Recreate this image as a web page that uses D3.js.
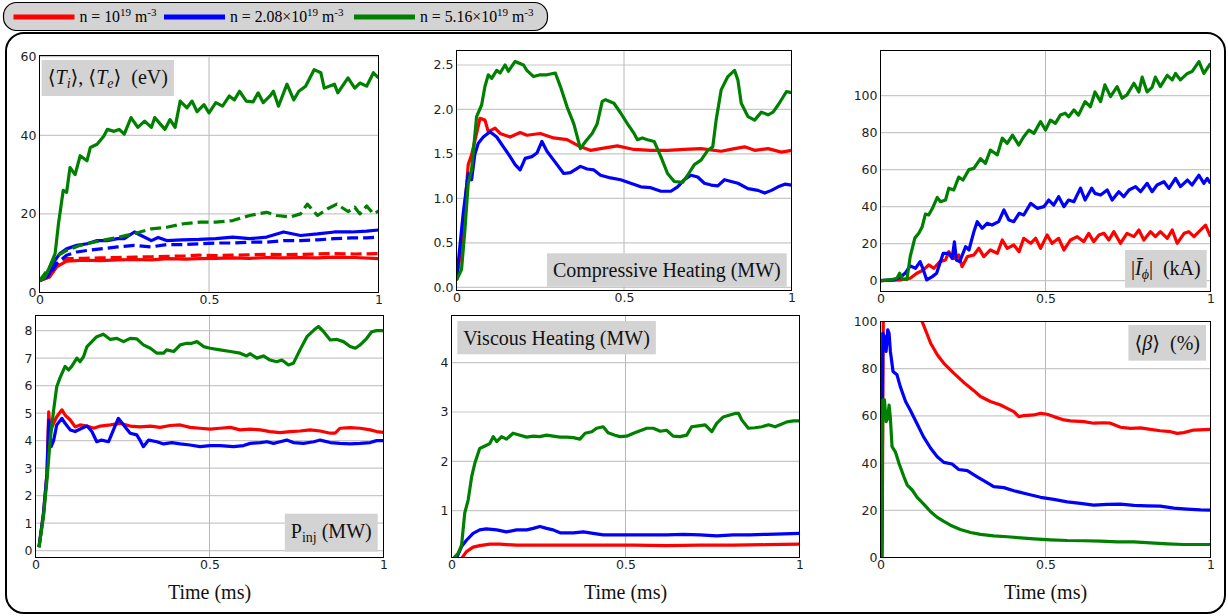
<!DOCTYPE html>
<html>
<head>
<meta charset="utf-8">
<script src="https://cdn.jsdelivr.net/npm/d3@7/dist/d3.min.js"></script>
<style>
  body { margin: 0; background: #fff; }
  svg { display: block; }
  text { white-space: pre; }
</style>
</head>
<body>
<svg id="chart" width="1228" height="616"></svg>
<script>
// ---------------- data ----------------
// Time axis (ms) ticks shared by all panels
const xTicks = [0, 0.5, 1];
const xTickLabels = ["0", "0.5", "1"];

// Densities of the three runs
const densityMantissa = ["", "2.08×", "5.16×"];

// Y ticks for each panel
const tempTicks = [0, 20, 40, 60];
const compTicks = [0, 0.5, 1, 1.5, 2, 2.5];
const currTicks = [0, 20, 40, 60, 80, 100];
const pinjTicks = [0, 1, 2, 3, 4, 5, 6, 7, 8];
const viscTicks = [1, 2, 3, 4];
const betaTicks = [0, 20, 40, 60, 80, 100];

// <T_i> (solid) and <T_e> (dashed), eV — [time ms, value]
const tiRed = [[0,3],[0.03,4],[0.05,6.5],[0.08,8],[0.13,8.2],[0.18,8.1],[0.23,8.3],[0.28,8.4],[0.33,8.3],[0.38,8.6],[0.43,8.5],[0.47,8.6],[0.52,8.7],[0.57,8.8],[0.62,8.7],[0.67,8.9],[0.72,8.8],[0.77,8.9],[0.82,8.8],[0.87,9],[0.93,8.9],[1,8.6]];
const teRed = [[0,3],[0.03,4],[0.05,6.5],[0.08,8.6],[0.13,8.7],[0.18,8.8],[0.23,8.9],[0.28,9],[0.33,9.1],[0.38,9.2],[0.43,9.3],[0.47,9.5],[0.52,9.4],[0.57,9.5],[0.62,9.6],[0.67,9.7],[0.72,9.6],[0.77,9.7],[0.82,9.8],[0.87,9.9],[0.93,9.8],[1,9.9]];
const tiBlue = [[0,3],[0.03,4.8],[0.046,8.2],[0.06,9.9],[0.08,11.1],[0.11,12],[0.14,12.4],[0.17,13.2],[0.2,13.2],[0.23,13.7],[0.25,13.7],[0.28,15.4],[0.3,14.5],[0.33,13.2],[0.35,14],[0.375,13.2],[0.42,13.4],[0.47,13.5],[0.52,13.7],[0.57,14.1],[0.62,13.7],[0.67,14.1],[0.72,15.4],[0.77,14.5],[0.82,14.9],[0.87,15.4],[0.92,15.4],[0.965,15.6],[1,15.9]];
const teBlue = [[0,3],[0.03,4.4],[0.05,7.3],[0.08,9.5],[0.11,10.3],[0.14,10.7],[0.18,11.1],[0.23,11.6],[0.28,12],[0.33,11.6],[0.375,12.2],[0.425,12.2],[0.475,12.4],[0.52,12.6],[0.57,12.6],[0.62,12.8],[0.67,12.8],[0.72,13.2],[0.77,13.2],[0.82,13.4],[0.87,13.7],[0.92,13.9],[0.965,13.9],[1,14.1]];
const tiGreen = [[0,3],[0.015,3.8],[0.03,6.5],[0.046,9.9],[0.056,17.5],[0.07,26],[0.08,25.5],[0.09,31.8],[0.105,30],[0.12,34.8],[0.14,33.5],[0.15,36.9],[0.17,37.7],[0.19,39.8],[0.2,41.5],[0.22,41],[0.235,41.5],[0.25,40.3],[0.27,44.5],[0.29,42],[0.31,43.6],[0.33,42],[0.34,44.5],[0.37,41.5],[0.385,44],[0.4,42],[0.415,48.7],[0.435,47],[0.45,48.7],[0.465,46],[0.485,47.8],[0.5,45.7],[0.52,48.3],[0.54,47.4],[0.56,50],[0.575,49],[0.59,51.2],[0.61,48.7],[0.63,48.5],[0.645,50.8],[0.66,48.3],[0.68,50],[0.69,51.2],[0.705,47.4],[0.73,53],[0.75,49],[0.765,51.2],[0.785,52.5],[0.81,56.7],[0.83,55.9],[0.84,52],[0.87,53],[0.88,50.8],[0.91,54.6],[0.93,52],[0.945,53.3],[0.965,52.5],[0.985,55.9],[1,54.6]];
const teGreen = [[0,3],[0.03,6.5],[0.046,9],[0.08,10.7],[0.12,12],[0.18,13.2],[0.23,14],[0.28,15],[0.33,16.2],[0.375,16.6],[0.425,17.5],[0.475,17.9],[0.52,17.9],[0.57,18.3],[0.62,19.6],[0.67,20.4],[0.7,19.6],[0.74,19.2],[0.77,20],[0.79,22.5],[0.82,19.6],[0.85,21.3],[0.877,22.5],[0.91,20.6],[0.93,21.7],[0.945,20],[0.965,22],[0.985,20],[1,20.7]];

// Compressive heating, MW
const compRed = [[0,0.08],[0.015,0.46],[0.025,0.9],[0.035,1.38],[0.045,1.49],[0.06,1.73],[0.07,1.9],[0.085,1.88],[0.095,1.75],[0.115,1.79],[0.13,1.73],[0.16,1.69],[0.19,1.74],[0.21,1.71],[0.25,1.73],[0.29,1.68],[0.33,1.66],[0.37,1.58],[0.4,1.54],[0.43,1.56],[0.48,1.59],[0.53,1.55],[0.58,1.54],[0.63,1.54],[0.68,1.55],[0.73,1.56],[0.79,1.53],[0.83,1.56],[0.86,1.58],[0.89,1.54],[0.93,1.56],[0.97,1.52],[1,1.54]];
const compBlue = [[0,0.08],[0.02,0.83],[0.035,1.28],[0.045,1.21],[0.055,1.5],[0.065,1.62],[0.08,1.69],[0.1,1.75],[0.12,1.69],[0.14,1.58],[0.16,1.47],[0.175,1.38],[0.19,1.32],[0.205,1.45],[0.225,1.47],[0.24,1.51],[0.255,1.64],[0.27,1.53],[0.29,1.43],[0.32,1.28],[0.34,1.29],[0.37,1.36],[0.39,1.33],[0.41,1.32],[0.43,1.26],[0.46,1.23],[0.49,1.21],[0.52,1.17],[0.55,1.13],[0.58,1.12],[0.61,1.08],[0.64,1.08],[0.66,1.13],[0.68,1.21],[0.7,1.26],[0.72,1.24],[0.74,1.17],[0.76,1.15],[0.78,1.14],[0.8,1.21],[0.82,1.19],[0.84,1.17],[0.87,1.11],[0.9,1.09],[0.92,1.06],[0.94,1.09],[0.96,1.13],[0.98,1.16],[1,1.15]];
const compGreen = [[0,0.08],[0.015,0.2],[0.025,0.64],[0.035,1.17],[0.045,1.32],[0.06,1.92],[0.075,2.05],[0.085,2.26],[0.095,2.39],[0.105,2.35],[0.12,2.44],[0.13,2.41],[0.145,2.5],[0.155,2.43],[0.175,2.54],[0.2,2.5],[0.21,2.44],[0.23,2.37],[0.25,2.39],[0.27,2.39],[0.295,2.41],[0.31,2.26],[0.33,2.03],[0.35,1.84],[0.37,1.56],[0.385,1.64],[0.405,1.73],[0.42,1.84],[0.435,2.09],[0.445,2.11],[0.47,2.07],[0.49,1.96],[0.51,1.84],[0.53,1.73],[0.54,1.66],[0.555,1.68],[0.57,1.66],[0.59,1.64],[0.61,1.47],[0.63,1.28],[0.65,1.19],[0.675,1.18],[0.69,1.26],[0.71,1.38],[0.73,1.43],[0.75,1.54],[0.765,1.58],[0.775,1.88],[0.79,2.22],[0.81,2.37],[0.83,2.44],[0.84,2.33],[0.85,2.07],[0.87,1.92],[0.89,1.88],[0.91,1.97],[0.93,1.94],[0.945,1.97],[0.96,2.05],[0.975,2.14],[0.985,2.2],[1,2.19]];

// |I_phi|, kA
const currRed = [[0,0],[0.06,0.4],[0.09,1.3],[0.11,4],[0.13,5.8],[0.146,8.5],[0.162,6.7],[0.18,10.3],[0.197,11.2],[0.207,15.7],[0.222,12],[0.237,13.9],[0.247,7.6],[0.263,13],[0.283,13.9],[0.298,17.5],[0.313,13],[0.333,16.6],[0.354,14.8],[0.369,22],[0.384,17.5],[0.404,19.3],[0.42,15.7],[0.434,22.9],[0.455,20.2],[0.47,22.9],[0.485,17.5],[0.505,24.7],[0.52,20.2],[0.54,22.9],[0.556,16.6],[0.576,22],[0.596,23.8],[0.616,21.1],[0.631,25.6],[0.646,21.1],[0.662,24.7],[0.677,25.6],[0.692,22],[0.707,26.5],[0.727,20.2],[0.747,25.6],[0.768,23.8],[0.783,27.4],[0.798,22],[0.818,26.5],[0.833,23.8],[0.848,26.5],[0.869,22.9],[0.884,27.4],[0.899,20.2],[0.92,25.6],[0.934,26.5],[0.95,23.8],[0.965,26.5],[0.985,30],[1,23.8]];
const currBlue = [[0,0],[0.04,0.4],[0.06,1.8],[0.076,4.3],[0.09,8],[0.106,6.7],[0.12,10.3],[0.13,5.8],[0.14,0.4],[0.157,2.2],[0.17,4],[0.18,9.4],[0.19,14.8],[0.207,14.8],[0.217,12],[0.224,21],[0.23,11.2],[0.24,10.3],[0.258,18.4],[0.268,16.6],[0.283,26.5],[0.293,31.9],[0.308,28.3],[0.323,31],[0.338,30.1],[0.358,31.9],[0.374,38.2],[0.389,32.8],[0.404,31.9],[0.42,36.4],[0.434,35.5],[0.455,41.8],[0.475,39.1],[0.495,40],[0.51,43.6],[0.525,40.9],[0.54,45.4],[0.556,40],[0.57,43.6],[0.586,42.7],[0.606,50],[0.62,43.6],[0.64,50],[0.65,47.2],[0.667,46.3],[0.687,49],[0.702,43.6],[0.722,48.1],[0.737,45.4],[0.753,49],[0.773,50.8],[0.788,48.1],[0.808,52.6],[0.823,48.1],[0.838,51.7],[0.859,53.5],[0.874,49.9],[0.894,55.3],[0.909,50.8],[0.93,54.4],[0.944,51.7],[0.965,57],[0.98,52.6],[0.99,55.3],[1,52.6]];
const currGreen = [[0,0],[0.03,0.4],[0.05,1.3],[0.058,4],[0.066,1],[0.08,0.7],[0.09,13],[0.104,23],[0.116,25.6],[0.126,29],[0.136,36],[0.146,35.5],[0.157,39],[0.172,45],[0.182,42.7],[0.197,43.6],[0.207,50],[0.222,49],[0.237,56],[0.25,54.4],[0.268,60],[0.283,60.7],[0.303,66],[0.318,63.4],[0.333,70.6],[0.354,68],[0.369,77],[0.384,74.2],[0.4,78.7],[0.419,73.3],[0.434,77.8],[0.45,81.4],[0.465,79.6],[0.485,86],[0.5,81.4],[0.515,86.8],[0.53,85],[0.545,89.5],[0.56,90.5],[0.57,88.6],[0.586,92.3],[0.6,89.5],[0.62,96.8],[0.636,94],[0.65,102],[0.667,96.8],[0.68,105.8],[0.697,99.5],[0.717,104.9],[0.732,98.6],[0.747,100.4],[0.768,106.7],[0.783,102],[0.793,110],[0.808,102],[0.823,104.5],[0.833,110],[0.848,104.9],[0.869,111],[0.884,108.5],[0.894,112],[0.909,108.5],[0.93,112],[0.944,113],[0.965,118.4],[0.98,112],[1,117.5]];

// Injected power, MW
const pinjRed = [[0.01,0.12],[0.023,1.36],[0.033,2.8],[0.038,5.05],[0.042,4.33],[0.052,4.63],[0.061,4.87],[0.076,5.12],[0.085,4.93],[0.1,4.75],[0.114,4.5],[0.128,4.57],[0.148,4.53],[0.167,4.45],[0.186,4.53],[0.215,4.57],[0.243,4.63],[0.272,4.53],[0.3,4.5],[0.33,4.53],[0.358,4.48],[0.387,4.55],[0.416,4.57],[0.444,4.48],[0.473,4.45],[0.502,4.42],[0.53,4.45],[0.56,4.48],[0.588,4.39],[0.617,4.42],[0.646,4.39],[0.674,4.33],[0.703,4.29],[0.732,4.33],[0.76,4.35],[0.789,4.39],[0.818,4.35],[0.847,4.27],[0.861,4.27],[0.875,4.45],[0.904,4.47],[0.933,4.45],[0.962,4.39],[0.98,4.33],[1,4.3]];
const pinjBlue = [[0.01,0.12],[0.023,1.36],[0.033,2.8],[0.038,4.75],[0.045,3.78],[0.052,4.0],[0.061,4.57],[0.076,4.81],[0.085,4.63],[0.1,4.39],[0.114,4.33],[0.133,4.45],[0.148,4.53],[0.162,4.33],[0.176,3.96],[0.19,4.02],[0.21,3.96],[0.224,4.39],[0.238,4.81],[0.253,4.57],[0.272,4.27],[0.291,4.21],[0.3,4.02],[0.31,3.78],[0.325,4.02],[0.349,3.96],[0.368,3.88],[0.392,3.93],[0.416,3.88],[0.444,3.84],[0.473,3.78],[0.502,3.82],[0.53,3.82],[0.569,3.78],[0.598,3.82],[0.617,3.9],[0.646,3.93],[0.665,3.96],[0.684,3.9],[0.703,3.96],[0.722,4.02],[0.741,3.93],[0.77,3.9],[0.8,3.96],[0.818,4.02],[0.847,3.93],[0.875,3.9],[0.904,3.88],[0.933,3.9],[0.962,3.93],[0.98,4.0],[1,4.0]];
const pinjGreen = [[0.01,0.12],[0.023,1.24],[0.033,2.57],[0.042,4.0],[0.052,5.1],[0.061,5.96],[0.071,6.3],[0.085,6.7],[0.095,6.57],[0.104,6.7],[0.119,7.0],[0.128,6.87],[0.138,7.05],[0.148,7.42],[0.162,7.6],[0.176,7.78],[0.195,7.87],[0.215,7.68],[0.234,7.72],[0.253,7.6],[0.272,7.72],[0.291,7.7],[0.31,7.48],[0.33,7.36],[0.349,7.18],[0.368,7.18],[0.377,7.3],[0.397,7.24],[0.416,7.48],[0.435,7.54],[0.449,7.54],[0.464,7.6],[0.483,7.42],[0.502,7.36],[0.53,7.3],[0.56,7.24],[0.588,7.18],[0.607,7.08],[0.617,7.16],[0.636,7.0],[0.655,7.08],[0.674,6.93],[0.693,6.87],[0.708,6.93],[0.727,6.75],[0.741,6.81],[0.76,7.3],[0.78,7.78],[0.8,8.02],[0.813,8.15],[0.828,7.96],[0.847,7.66],[0.866,7.68],[0.885,7.6],[0.904,7.42],[0.919,7.36],[0.933,7.48],[0.952,7.72],[0.966,7.96],[0.98,8.0],[1,8.0]];

// Viscous heating, MW
const viscRed = [[0.029,0.03],[0.043,0.17],[0.062,0.26],[0.081,0.29],[0.11,0.32],[0.139,0.32],[0.187,0.3],[0.235,0.3],[0.331,0.3],[0.427,0.3],[0.523,0.3],[0.618,0.29],[0.714,0.3],[0.81,0.3],[0.906,0.31],[1,0.32]];
const viscBlue = [[0.014,0.03],[0.029,0.27],[0.043,0.4],[0.062,0.54],[0.081,0.61],[0.1,0.63],[0.13,0.61],[0.158,0.57],[0.187,0.61],[0.216,0.61],[0.235,0.64],[0.254,0.68],[0.273,0.64],[0.292,0.61],[0.312,0.55],[0.35,0.55],[0.379,0.57],[0.407,0.54],[0.436,0.51],[0.475,0.51],[0.523,0.51],[0.57,0.51],[0.618,0.51],[0.666,0.52],[0.714,0.51],[0.762,0.49],[0.81,0.51],[0.858,0.51],[0.906,0.52],[0.954,0.53],[1,0.54]];
const viscGreen = [[0.005,0.03],[0.019,0.135],[0.029,0.3],[0.038,0.95],[0.048,1.22],[0.058,1.69],[0.067,1.96],[0.081,2.26],[0.096,2.31],[0.11,2.36],[0.12,2.5],[0.13,2.4],[0.144,2.5],[0.158,2.45],[0.177,2.57],[0.197,2.53],[0.216,2.49],[0.235,2.51],[0.254,2.5],[0.273,2.53],[0.292,2.51],[0.312,2.49],[0.331,2.49],[0.35,2.48],[0.369,2.45],[0.384,2.57],[0.403,2.6],[0.417,2.67],[0.436,2.7],[0.45,2.58],[0.47,2.53],[0.484,2.5],[0.503,2.51],[0.523,2.57],[0.542,2.62],[0.561,2.67],[0.58,2.67],[0.6,2.61],[0.618,2.63],[0.637,2.51],[0.657,2.5],[0.676,2.53],[0.69,2.7],[0.71,2.72],[0.729,2.74],[0.748,2.6],[0.762,2.77],[0.781,2.9],[0.8,2.94],[0.815,2.97],[0.825,2.97],[0.834,2.84],[0.853,2.67],[0.872,2.68],[0.892,2.7],[0.911,2.74],[0.93,2.7],[0.944,2.74],[0.964,2.8],[0.983,2.82],[1,2.82]];

// <beta>, %
const betaRed = [[0.005,0],[0.009,120],[0.02,160],[0.06,135],[0.1,110],[0.126,100],[0.136,96.5],[0.152,90.8],[0.172,85.9],[0.192,82.3],[0.222,78.1],[0.253,74.1],[0.283,70.7],[0.303,68.2],[0.333,66.1],[0.364,64.6],[0.384,63.2],[0.404,61.8],[0.419,59.7],[0.434,60.1],[0.465,60.4],[0.485,61.1],[0.505,60.7],[0.525,59.7],[0.556,58.3],[0.576,57.9],[0.616,57.6],[0.646,56.9],[0.677,57.1],[0.697,56.9],[0.727,55.2],[0.758,54.7],[0.788,54.9],[0.818,54.3],[0.848,53.7],[0.879,53.3],[0.899,52.6],[0.919,52.9],[0.949,54],[1,54.3]];
const betaBlue = [[0.003,0],[0.007,95],[0.012,93.6],[0.017,87.3],[0.022,96.5],[0.026,95],[0.03,87.3],[0.038,78.8],[0.05,77.4],[0.06,72.4],[0.076,66.1],[0.09,62.5],[0.11,56.9],[0.13,51.2],[0.152,46.3],[0.172,42.7],[0.192,40.3],[0.217,39.6],[0.237,37.3],[0.263,36.8],[0.293,34.2],[0.323,31.7],[0.343,30],[0.374,29.6],[0.404,28.3],[0.444,26.9],[0.485,25.5],[0.525,24.6],[0.566,23.6],[0.606,22.9],[0.646,22.2],[0.687,22.5],[0.727,22.6],[0.768,22.1],[0.808,21.9],[0.848,21.8],[0.889,20.9],[0.929,20.5],[0.97,20.2],[1,20.1]];
const betaGreen = [[0.003,0],[0.007,66.8],[0.012,66.8],[0.017,57.6],[0.022,59],[0.026,64.6],[0.03,59],[0.035,47],[0.045,44.8],[0.056,39.9],[0.071,34.2],[0.081,30.7],[0.096,28.6],[0.111,25.5],[0.131,22.6],[0.152,19.4],[0.172,17],[0.192,15.3],[0.212,13.7],[0.242,11.9],[0.273,10.6],[0.303,9.8],[0.343,9.2],[0.384,8.8],[0.424,8.3],[0.465,7.9],[0.515,7.5],[0.566,7.2],[0.616,7.1],[0.667,6.9],[0.717,6.6],[0.768,6.6],[0.818,6.2],[0.869,5.8],[0.919,5.5],[0.97,5.5],[1,5.5]];

// ---------------- styling & layout ----------------
const RED = "#ff0000", BLUE = "#0000ff", GREEN = "#008000";
const runColors = [RED, BLUE, GREEN];
const SERIF = "'Liberation Serif', 'DejaVu Serif', serif";
const SANS = "'DejaVu Sans', sans-serif";

// rich-text segments: s = string, i = italic, sub/sup = script
const panels = [
  { box: [39.5, 378.5, 55.5, 292.5], yDomain: [0, 60.3], yTicks: tempTicks, fmt: d3.format("d"),
    lines: [[tiRed, RED], [teRed, RED, true], [tiBlue, BLUE], [teBlue, BLUE, true], [tiGreen, GREEN], [teGreen, GREEN, true]],
    label: { segs: [{s:"⟨"},{s:"T",i:1},{s:"i",i:1,sub:1},{s:"⟩, ⟨"},{s:"T",i:1},{s:"e",i:1,sub:1},{s:"⟩  (eV)"}],
             anchor: "tl", x: 41.7, y: 60, h: 36, base: 23.5 } },
  { box: [456.5, 791.5, 50.5, 290.5], yDomain: [-0.036, 2.663], yTicks: compTicks, fmt: d3.format(".1f"),
    lines: [[compRed, RED], [compBlue, BLUE], [compGreen, GREEN]],
    label: { segs: [{s:"Compressive Heating (MW)"}], anchor: "br", x: 786.7, y: 286.7, h: 33.4, base: 23.7 } },
  { box: [880.5, 1210.5, 50.5, 291.5], yDomain: [-5.84, 124.4], yTicks: currTicks, fmt: d3.format("d"),
    lines: [[currRed, RED], [currBlue, BLUE], [currGreen, GREEN]],
    label: { segs: [{s:"|"},{s:"Ī",i:1},{s:"ϕ",i:1,sub:1},{s:"|  (kA)"}], anchor: "br", x: 1206.7, y: 287.7, h: 37.7, base: 25 } },
  { box: [35.5, 383.5, 315.5, 557.5], yDomain: [-0.25, 8.55], yTicks: pinjTicks, fmt: d3.format("d"), xLabel: true,
    lines: [[pinjRed, RED], [pinjBlue, BLUE], [pinjGreen, GREEN]],
    label: { segs: [{s:"P"},{s:"inj",sub:1},{s:" (MW)"}], anchor: "br", x: 377.7, y: 551.7, h: 38, base: 24 } },
  { box: [451.5, 799.5, 315.5, 557.5], yDomain: [0.05, 4.956], yTicks: viscTicks, fmt: d3.format("d"), xLabel: true,
    lines: [[viscRed, RED], [viscBlue, BLUE], [viscGreen, GREEN]],
    label: { segs: [{s:"Viscous Heating (MW)"}], anchor: "tl", x: 457.3, y: 321, h: 33.3, base: 24 } },
  { box: [880.5, 1210.5, 321.5, 557.5], yDomain: [0, 100], yTicks: betaTicks, fmt: d3.format("d"), xLabel: true,
    lines: [[betaRed, RED], [betaBlue, BLUE], [betaGreen, GREEN]],
    label: { segs: [{s:"⟨"},{s:"β",i:1},{s:"⟩  (%)"}], anchor: "tr", x: 1206, y: 325, h: 35.7, base: 25 } }
];

// append rich text (italics, sub/superscripts) into an SVG text element
function richText(textSel, segs, size) {
  let shift = 0;
  segs.forEach(seg => {
    const target = seg.sub ? 0.22 * size : seg.sup ? -0.38 * size : 0;
    textSel.append("tspan")
      .attr("dy", target - shift)
      .attr("font-size", (seg.sub || seg.sup) ? size * 0.7 : size)
      .attr("font-style", seg.i ? "italic" : "normal")
      .text(seg.s);
    shift = target;
  });
}

const svg = d3.select("#chart");
svg.append("rect").attr("width", 1228).attr("height", 616).attr("fill", "#fff");

// ---------------- legend ----------------
const legend = svg.append("g");
legend.append("rect")
  .attr("x", 3.5).attr("y", 2.5).attr("width", 544).attr("height", 28).attr("rx", 13)
  .attr("fill", "#d3d3d3").attr("stroke", "#000").attr("stroke-width", 1.2);
const legendLineX = [13.5, 164, 354];
densityMantissa.forEach((m, i) => {
  const x0 = legendLineX[i];
  legend.append("line")
    .attr("x1", x0).attr("x2", x0 + 61).attr("y1", 17).attr("y2", 17)
    .attr("stroke", runColors[i]).attr("stroke-width", 5);
  const t = legend.append("text")
    .attr("x", x0 + 66).attr("y", 22)
    .attr("font-family", SERIF).attr("fill", "#000");
  richText(t, [{s: "n = " + m + "10"}, {s: "19", sup: 1}, {s: " m"}, {s: "-3", sup: 1}], 15.8);
});

// outer rounded frame around the panel grid
svg.append("rect")
  .attr("x", 6).attr("y", 33).attr("width", 1219).attr("height", 580).attr("rx", 18)
  .attr("fill", "none").attr("stroke", "#000").attr("stroke-width", 2);

// ---------------- panels ----------------
panels.forEach((p, pi) => {
  const [l, r, t, b] = p.box;
  const x = d3.scaleLinear().domain([0, 1]).range([l, r]);
  const y = d3.scaleLinear().domain(p.yDomain).range([b, t]);
  const g = svg.append("g");

  // grid
  g.selectAll("line.hgrid").data(p.yTicks).join("line").attr("class", "hgrid")
    .attr("x1", l).attr("x2", r).attr("y1", d => y(d)).attr("y2", d => y(d))
    .attr("stroke", "#c8c8c8").attr("stroke-width", 1.2);
  g.selectAll("line.vgrid").data(xTicks).join("line").attr("class", "vgrid")
    .attr("x1", d => x(d)).attr("x2", d => x(d)).attr("y1", t).attr("y2", b)
    .attr("stroke", "#b8b8b8").attr("stroke-width", 1);

  // clipped data lines
  const cid = "clip" + pi;
  svg.append("clipPath").attr("id", cid)
    .append("rect").attr("x", l).attr("y", t).attr("width", r - l).attr("height", b - t);
  const line = d3.line().x(d => x(d[0])).y(d => y(d[1]));
  p.lines.forEach(([data, color, dashed]) => {
    g.append("path")
      .attr("d", line(data))
      .attr("fill", "none").attr("stroke", color).attr("stroke-width", 3.2)
      .attr("stroke-linejoin", "round")
      .attr("stroke-dasharray", dashed ? "11,5" : null)
      .attr("clip-path", `url(#${cid})`);
  });

  // axes frame
  g.append("rect").attr("x", l).attr("y", t).attr("width", r - l).attr("height", b - t)
    .attr("fill", "none").attr("stroke", "#000").attr("stroke-width", 1);

  // axes
  const ax = g.append("g").attr("transform", `translate(0,${b})`)
    .call(d3.axisBottom(x).tickValues(xTicks).tickFormat((d, i) => xTickLabels[i]).tickSize(0).tickPadding(3));
  const ay = g.append("g").attr("transform", `translate(${l},0)`)
    .call(d3.axisLeft(y).tickValues(p.yTicks).tickFormat(p.fmt).tickSize(0).tickPadding(3));
  [ax, ay].forEach(a => {
    a.select(".domain").remove();
    a.attr("font-family", SANS).attr("font-size", 12.5).attr("color", "#1e1e1e");
  });

  // in-panel label on a grey box
  const L = p.label;
  const lg = g.append("g");
  const box = lg.append("rect").attr("fill", "#d3d3d3");
  const txt = lg.append("text").attr("font-family", SERIF).attr("fill", "#111");
  richText(txt, L.segs, 20);
  const w = txt.node().getComputedTextLength() + 12;
  const bx = (L.anchor === "tl") ? L.x : L.x - w;
  const by = (L.anchor === "br") ? L.y - L.h : L.y;
  box.attr("x", bx).attr("y", by).attr("width", w).attr("height", L.h);
  txt.attr("x", bx + 6).attr("y", by + L.base);

  // time axis title for the bottom row
  if (p.xLabel) {
    g.append("text")
      .attr("x", (l + r) / 2).attr("y", 599)
      .attr("text-anchor", "middle")
      .attr("font-family", SERIF).attr("font-size", 20).attr("fill", "#111")
      .text("Time (ms)");
  }
});
</script>
</body>
</html>
